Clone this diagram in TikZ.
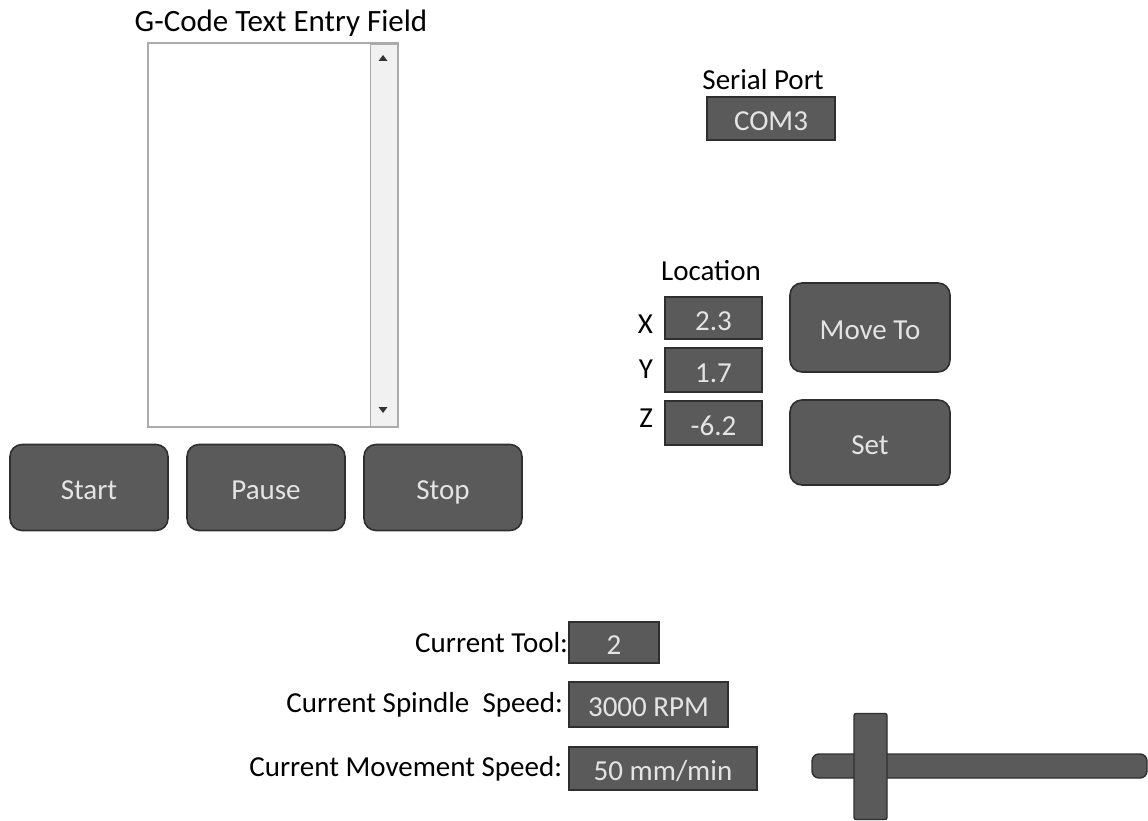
\documentclass[tikz,border=0pt]{standalone}
\usepackage{fontspec}
\setmainfont{Carlito}
\usetikzlibrary{positioning}
\definecolor{panel}{HTML}{5A5A5A}
\definecolor{edge}{HTML}{2F2F2F}
\definecolor{caption}{HTML}{E4E4E4}
\definecolor{frame}{HTML}{ABABAB}
\definecolor{scroll}{HTML}{F1F1F1}

\begin{document}
\begin{tikzpicture}[
    x=1pt, y=-1pt,
    every node/.style={font=\fontsize{29}{33}\selectfont, inner sep=0pt, outer sep=0pt},
    lbl/.style={text=black},
    btn/.style={draw=edge, fill=panel, line width=1.6pt, rounded corners=12pt, text=caption,
                text height=24pt, text depth=0pt, minimum width=158pt, minimum height=86pt},
    field/.style={draw=edge, fill=panel, line width=1.4pt, text=caption,
                text height=24pt, text depth=0pt},
    knob/.style={draw=edge, fill=panel, line width=1.4pt},
]
\useasboundingbox (0,0) rectangle (1148,821);

% ============================================================ program entry and run controls
\node[draw=frame, line width=1.2pt, fill=white, minimum width=250pt, minimum height=384pt]
    (gcode) at (273,235) {};
\node[draw=frame, line width=0.8pt, fill=scroll, minimum width=27pt, minimum height=382pt,
      anchor=north east] (gcodebar) at (397,44) {};
\fill[black!80] (383,55) -- (387.5,61) -- (378.5,61) -- cycle;
\fill[black!80] (383,413) -- (387.5,407) -- (378.5,407) -- cycle;
\node[lbl, anchor=base, font=\fontsize{31}{35}\selectfont] (gtitle) at (281,32) {G-Code Text Entry Field};

\node[btn] (startbtn) at (89,487.5) {Start};
\node[btn, right=19pt of startbtn] (pausebtn) {Pause};
\node[btn, right=19pt of pausebtn] (stopbtn) {Stop};

% ============================================================ port
\node[field, minimum width=128pt, minimum height=43pt] (portbox) at (771,118.5) {COM3};
\node[lbl, anchor=base] (porthead) at (763,90) {Serial Port};

% ============================================================ position readout
\node[field, minimum width=97pt, minimum height=42pt] (xbox) at (713.5,318) {2.3};
\node[field, minimum width=97pt, minimum height=44pt] (ybox) at (713.5,370) {1.7};
\node[field, minimum width=97pt, minimum height=44pt] (zbox) at (713.5,423) {-6.2};
\node[lbl, anchor=base] (lochead) at (711,280) {Location};
\node[lbl, anchor=base east] (xlbl) at (653,333) {X};
\node[lbl, anchor=base east] (ylbl) at (653,378) {Y};
\node[lbl, anchor=base east] (zlbl) at (653,427) {Z};

\node[btn, minimum width=160pt, minimum height=89pt] (movebtn) at (870,327.5) {Move To};
\node[btn, minimum width=160pt, minimum height=85pt] (setbtn) at (870,442.5) {Set};

% ============================================================ machine state
\node[field, minimum width=90pt, minimum height=41pt] (toolbox) at (614,642.5) {2};
\node[field, minimum width=159pt, minimum height=45pt] (spinbox) at (648.5,704.5) {3000 RPM};
\node[field, minimum width=188pt, minimum height=43pt] (feedbox) at (663,768.5) {50 mm/min};
\node[lbl, left=1pt of toolbox] (toollbl) {Current Tool:};
\node[lbl, left=6pt of spinbox] (spinlbl) {Current Spindle\ \ Speed:};
\node[lbl, left=7pt of feedbox] (feedlbl) {Current Movement\ Speed:};

% feed slider
\node[knob, rounded corners=7pt, minimum width=335pt, minimum height=24pt] (track) at (979.5,766) {};
\node[knob, rounded corners=2pt, minimum width=33pt, minimum height=106pt] (thumb) at (870.5,766.5) {};

\end{tikzpicture}
\end{document}
